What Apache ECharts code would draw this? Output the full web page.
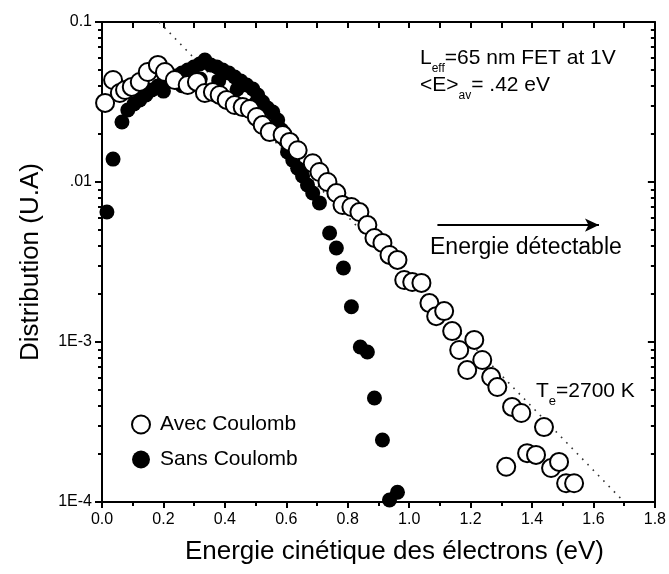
<!DOCTYPE html>
<html>
<head>
<meta charset="utf-8">
<script src="https://cdn.jsdelivr.net/npm/echarts@6/dist/echarts.min.js"></script>
<style>html,body{margin:0;padding:0;background:#fff}#chart{width:669px;height:574px}</style>
</head>
<body>
<div id="chart"></div>
<script>
// energie (eV), distribution (U.A)
var avecCoulomb = [
  [0.010,0.0312],[0.036,0.0434],[0.058,0.0360],[0.075,0.0376],[0.097,0.0393],[0.123,0.0422],
  [0.149,0.0487],[0.182,0.0539],[0.205,0.0487],[0.237,0.0434],[0.279,0.0404],[0.309,0.0422],
  [0.335,0.0360],[0.361,0.0365],[0.383,0.0350],[0.406,0.0326],[0.432,0.0303],[0.458,0.0294],
  [0.481,0.0286],[0.504,0.0255],[0.523,0.0227],[0.546,0.0205],[0.588,0.0197],[0.611,0.0178],
  [0.637,0.0158],[0.686,0.0131],[0.708,0.01155],[0.734,0.0100],[0.763,0.00853],[0.783,0.00718],
  [0.812,0.00698],[0.838,0.00649],[0.864,0.00538],[0.887,0.00447],[0.913,0.00416],[0.936,0.00350],
  [0.962,0.00326],[0.984,0.00244],[1.010,0.00237],[1.040,0.00234],[1.066,0.00175],[1.088,0.00145],
  [1.114,0.00156],[1.140,0.00117],[1.163,0.000891],[1.189,0.000668],[1.212,0.00103],[1.238,0.000772],
  [1.267,0.000604],[1.287,0.000523],[1.316,0.000166],[1.335,0.000393],[1.365,0.000360],[1.384,0.000202],
  [1.413,0.000197],[1.439,0.000294],[1.462,0.000163],[1.488,0.000178],[1.511,0.000131],[1.537,0.000131]
];
var sansCoulomb = [
  [0.016,0.00649],[0.036,0.0139],[0.065,0.0237],[0.084,0.0282],[0.104,0.0307],[0.123,0.0326],
  [0.143,0.0350],[0.162,0.0376],[0.182,0.0398],[0.201,0.0422],[0.221,0.0440],[0.240,0.0460],
  [0.260,0.0480],[0.279,0.0501],[0.299,0.0523],[0.318,0.0546],[0.335,0.0579],[0.354,0.0539],
  [0.374,0.0523],[0.393,0.0501],[0.413,0.0480],[0.432,0.0453],[0.452,0.0428],[0.471,0.0404],
  [0.491,0.0381],[0.507,0.0350],[0.523,0.0316],[0.539,0.0290],[0.556,0.0274],[0.572,0.0244],
  [0.585,0.0211],[0.595,0.0183],[0.604,0.0154],[0.621,0.0137],[0.637,0.0122],[0.653,0.0109],
  [0.669,0.00958],[0.686,0.00853],[0.708,0.00740],[0.741,0.00480],[0.763,0.00387],[0.786,0.00290],
  [0.812,0.00166],[0.841,0.000931],[0.864,0.000866],[0.887,0.000447],[0.913,0.000244],
  [0.936,0.000103],[0.962,0.000115],
  [0.200,0.0370],[0.260,0.0400],[0.320,0.0440],[0.380,0.0430],[0.440,0.0380],[0.500,0.0310]
];
// droite Te = 2700 K
var fitLine = [[0.186,0.1],[1.70,0.0001]];
var arrowLine = [[1.092,0.00538],[1.618,0.00538]];
var yTickLabels = {'-1':'0.1','-2':'.01','-3':'1E-3','-4':'1E-4'};
var yMinorTicks = [];
for (var d = -4; d < -1; d++) {
  for (var k = 2; k <= 9; k++) yMinorTicks.push(d + Math.log10(k));
}

var FONT = 'Liberation Sans, Arial, sans-serif';
var black = '#000';
function axLine() { return {show:true, lineStyle:{color:black, width:2}}; }
function tickStyle() { return {color:black, width:2}; }

var myChart = echarts.init(document.getElementById('chart'));
var option = {
  animation: false,
  grid: {left:102, right:13, top:22, bottom:72},
  legend: {
    data: ['Avec Coulomb','Sans Coulomb'],
    orient: 'vertical', left: 126, top: 409,
    itemWidth: 28, itemHeight: 18, itemGap: 14,
    icon: 'circle',
    textStyle: {fontSize:21, fontFamily:FONT, color:black}
  },
  xAxis: [
    {
      type:'value', min:0, max:1.8, interval:0.2, position:'bottom',
      axisLine: axLine(),
      axisTick: {show:true, length:6, lineStyle:tickStyle()},
      minorTick: {show:true, splitNumber:2, length:4, lineStyle:tickStyle()},
      axisLabel: {color:black, fontSize:16, fontFamily:FONT, margin:10, formatter:function(v){return v.toFixed(1);}},
      splitLine: {show:false},
      name: 'Energie cinétique des électrons (eV)', nameLocation:'middle', nameGap:37,
      nameTextStyle: {fontSize:26, fontFamily:FONT, color:black, padding:[0,0,0,32]}
    },
    {
      type:'value', min:0, max:1.8, interval:0.1, position:'top',
      axisLine: axLine(),
      axisTick: {show:true, inside:true, length:6, lineStyle:tickStyle()},
      axisLabel: {show:false}, splitLine: {show:false}
    }
  ],
  yAxis: [
    {
      type:'log', logBase:10, min:0.0001, max:0.1, position:'left',
      axisLine: axLine(),
      axisTick: {show:true, length:7, lineStyle:tickStyle()},
      axisLabel: {color:black, fontSize:16, fontFamily:FONT, margin:10,
        formatter:function(v){return yTickLabels[Math.round(Math.log10(v))] || '';}},
      splitLine: {show:false},
      name: 'Distribution (U.A)', nameLocation:'middle', nameGap:58,
      nameTextStyle: {fontSize:26, fontFamily:FONT, color:black}
    },
    {
      type:'value', min:-4, max:-1, position:'left',
      axisLine:{show:false},
      axisTick:{show:true, length:4, customValues:yMinorTicks, lineStyle:tickStyle()},
      axisLabel:{show:false}, splitLine:{show:false}
    },
    {
      type:'value', min:-4, max:-1, interval:1, position:'right',
      axisLine: axLine(),
      axisTick:{show:true, inside:true, length:7, lineStyle:tickStyle()},
      axisLabel:{show:false}, splitLine:{show:false}
    },
    {
      type:'value', min:-4, max:-1, position:'right',
      axisLine:{show:false},
      axisTick:{show:true, inside:true, length:4, customValues:yMinorTicks, lineStyle:tickStyle()},
      axisLabel:{show:false}, splitLine:{show:false}
    }
  ],
  series: [
    {
      name:'fit', type:'line', data:fitLine, xAxisIndex:0, yAxisIndex:0,
      symbol:'none', silent:true, z:1,
      lineStyle:{color:'#333', width:1.6, type:[1.6,6]},
      markLine: {
        silent:true, symbol:['none','arrow'], symbolSize:[10,14],
        label:{show:false},
        lineStyle:{color:black, width:2, type:'solid'},
        data:[[{coord:arrowLine[0]},{coord:arrowLine[1]}]]
      }
    },
    {
      name:'Sans Coulomb', type:'scatter', data:sansCoulomb, xAxisIndex:0, yAxisIndex:0,
      symbol:'circle', symbolSize:15, z:2,
      itemStyle:{color:black, opacity:1}
    },
    {
      name:'Avec Coulomb', type:'scatter', data:avecCoulomb, xAxisIndex:0, yAxisIndex:0,
      symbol:'circle', symbolSize:18, z:3,
      itemStyle:{color:'#fff', borderColor:black, borderWidth:2, opacity:1}
    }
  ],
  graphic: [
    {
      type:'text', left:420, top:48,
      style:{
        text:'{m|L}{s|eff}{m|=65 nm FET at 1V}',
        rich:{
          m:{fontSize:21, fontFamily:FONT, fill:black, lineHeight:22, verticalAlign:'top'},
          s:{fontSize:12, fontFamily:FONT, fill:black, lineHeight:12, padding:[15,0,0,0], verticalAlign:'top'}
        }
      }
    },
    {
      type:'text', left:420, top:75,
      style:{
        text:'{m|<E>}{s|av}{m|= .42 eV}',
        rich:{
          m:{fontSize:21, fontFamily:FONT, fill:black, lineHeight:22, verticalAlign:'top'},
          s:{fontSize:12, fontFamily:FONT, fill:black, lineHeight:12, padding:[15,0,0,0], verticalAlign:'top'}
        }
      }
    },
    {
      type:'text', left:536, top:381,
      style:{
        text:'{m|T}{s|e}{m|=2700 K}',
        rich:{
          m:{fontSize:21, fontFamily:FONT, fill:black, lineHeight:23, verticalAlign:'top'},
          s:{fontSize:13, fontFamily:FONT, fill:black, lineHeight:13, padding:[14,0,0,0], verticalAlign:'top'}
        }
      }
    },
    {
      type:'text', left:430, top:236,
      style:{text:'Energie détectable', fontSize:23, fontFamily:FONT, fill:black}
    }
  ]
};
myChart.setOption(option);
</script>
</body>
</html>
